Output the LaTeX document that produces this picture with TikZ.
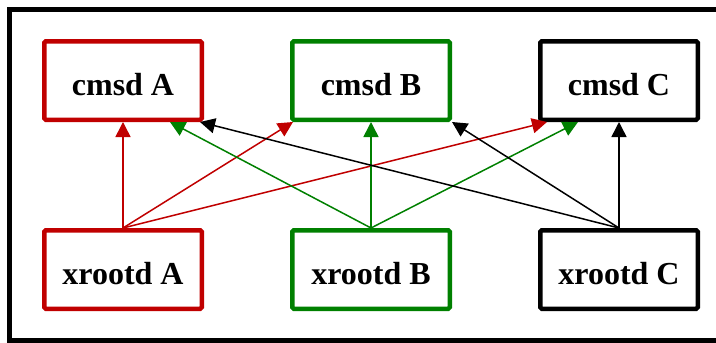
\documentclass[tikz,border=0pt]{standalone}
\usepackage{fontspec}
\setmainfont{Liberation Serif}
\usetikzlibrary{arrows.meta}
\definecolor{cred}{RGB}{192,0,0}
\definecolor{cgreen}{RGB}{0,128,0}
\tikzset{
  srv/.style={draw=#1, line width=4.5pt, rounded corners=1.5pt, minimum width=157.5pt, minimum height=78.5pt,
    inner sep=0pt, text height=30pt, text depth=0pt, font=\fontsize{32}{34}\selectfont\bfseries},
  conn/.style={draw=#1, line width=1.5pt, -{Triangle[length=15pt,width=15pt]}},
}
\begin{document}
\begin{tikzpicture}[x=1pt,y=-1pt]
\useasboundingbox (0,0) rectangle (716,343);
\clip (0,0) rectangle (716,343);
\draw[line width=5pt] (9.5,9.5) rectangle (740,340.5);
\node[srv=cred]   (cA) at (123,80.5) {cmsd A};
\node[srv=cgreen] (cB) at (371,80.5) {cmsd B};
\node[srv=black]  (cC) at (619,80.5) {cmsd C};
\node[srv=cred]   (xA) at (123,269.5) {xrootd A};
\node[srv=cgreen] (xB) at (371,269.5) {xrootd B};
\node[srv=black]  (xC) at (619,269.5) {xrootd C};
\draw[conn=cred] (xA.north) -- (cA.south);
\draw[conn=cred] (xA.north) -- ([xshift=-78pt]cB.south);
\draw[conn=cred] (xA.north) -- ([xshift=-72pt]cC.south);
\draw[conn=cgreen] (xB.north) -- ([xshift=47pt]cA.south);
\draw[conn=cgreen] (xB.north) -- (cB.south);
\draw[conn=cgreen] (xB.north) -- ([xshift=-41pt]cC.south);
\draw[conn=black] (xC.north) -- ([xshift=77pt]cA.south);
\draw[conn=black] (xC.north) -- ([xshift=81pt]cB.south);
\draw[conn=black] (xC.north) -- (cC.south);
\end{tikzpicture}
\end{document}
